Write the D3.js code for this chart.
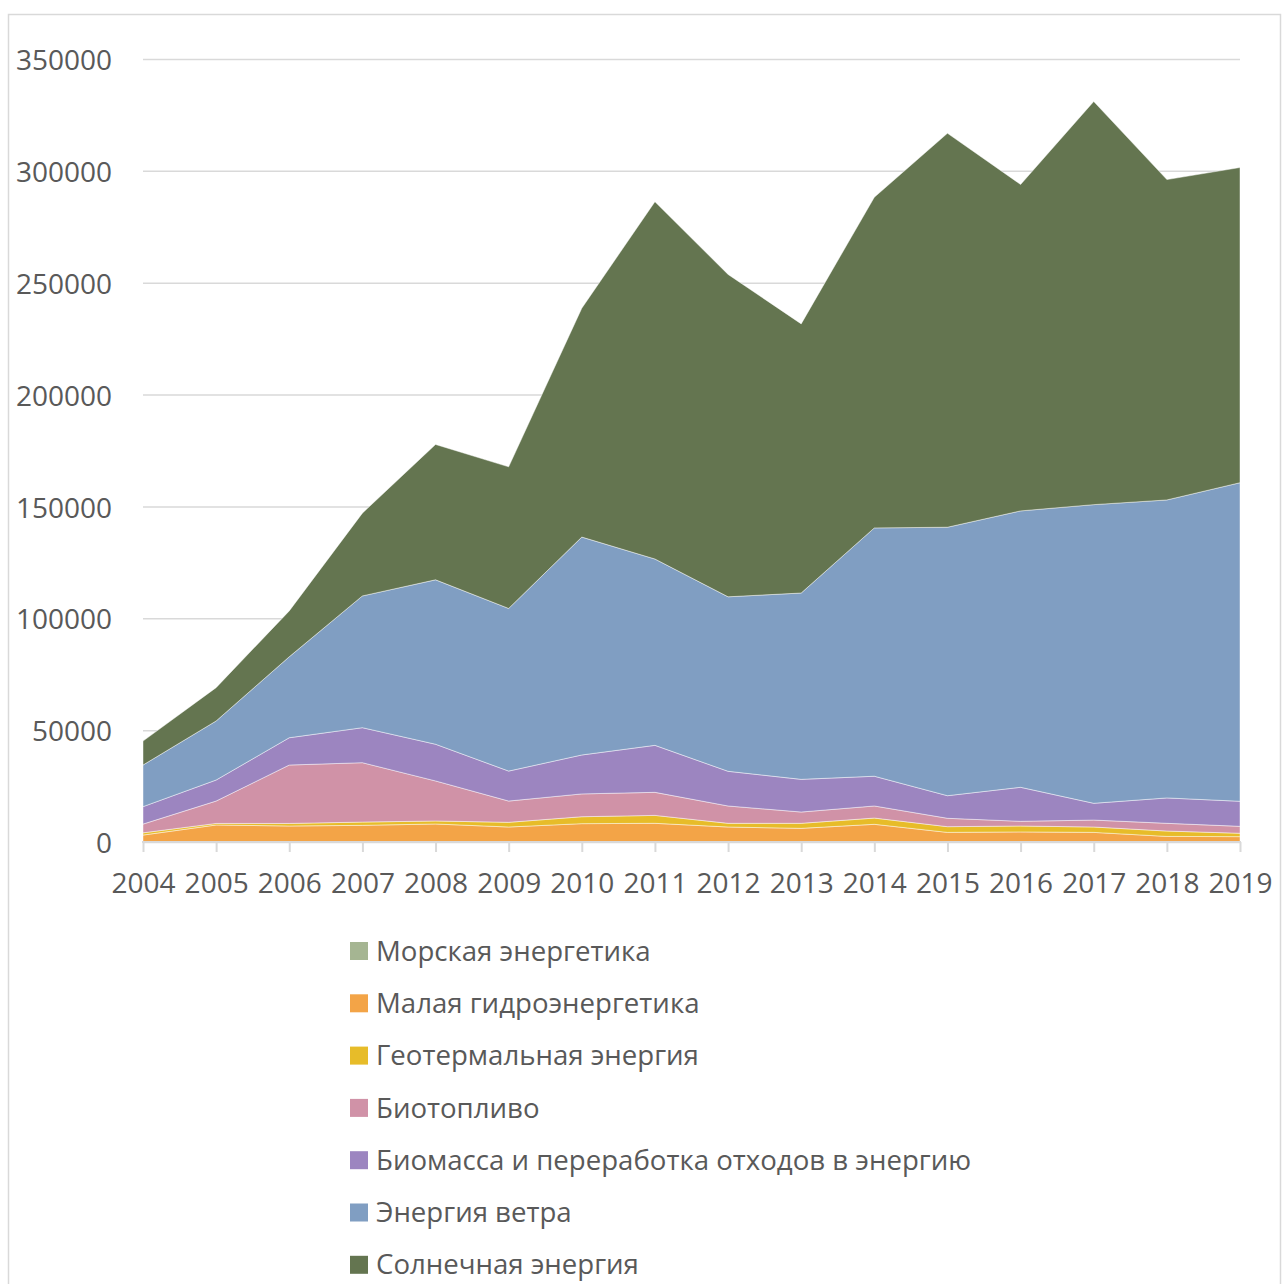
<!DOCTYPE html>
<html><head><meta charset="utf-8">
<script src="https://cdn.jsdelivr.net/npm/d3@7"></script>
<style>body{margin:0;background:#fff}svg{display:block}</style>
</head><body>
<script>
const years = ["2004","2005","2006","2007","2008","2009","2010","2011","2012","2013","2014","2015","2016","2017","2018","2019"];
const seriesNames = ["Морская энергетика","Малая гидроэнергетика","Геотермальная энергия","Биотопливо","Биомасса и переработка отходов в энергию","Энергия ветра","Солнечная энергия"];
const marine   = [0,0,0,100,200,0,0,0,0,0,0,0,0,0,0,0];
const hydro    = [3100,7600,7150,7350,7850,6700,8200,8350,6700,6100,7900,4300,4500,4300,2500,2400];
const geo      = [1000,700,1150,1450,1350,2100,3100,3550,1650,2250,2800,2550,2650,2400,2400,1500];
const biofuel  = [3900,10000,26100,26550,17900,9500,10200,10300,7750,5050,5400,3750,2100,3100,3450,3100];
const biomass  = [7800,9400,12200,15650,16400,13400,17400,21000,15500,14600,13300,10100,15200,7500,11350,11200];
const wind     = [18600,26400,36200,58900,73500,72700,97400,83300,78000,83300,111000,120000,123550,133500,133200,142400];
const solar    = [10700,14900,20500,37000,60500,63300,102300,159700,144100,120300,147800,176100,145900,180200,143200,140900];
const yTicks = [0,50000,100000,150000,200000,250000,300000,350000];
const colors = ["#a5b592","#f3a447","#e7bc29","#d092a7","#9c85c0","#809ec2","#647550"];

const seriesValues = [marine, hydro, geo, biofuel, biomass, wind, solar];
const table = years.map((yr, i) => {
  const row = {year: yr};
  seriesNames.forEach((n, k) => row[n] = seriesValues[k][i]);
  return row;
});

const W = 1283, H = 1284;
const svg = d3.select("body").append("svg").attr("width", W).attr("height", H);
const font = "'Open Sans', sans-serif";
const txt = "#595959";

// chart border
svg.append("rect").attr("x", 8.5).attr("y", 14.5).attr("width", 1272).attr("height", 1300)
  .attr("fill", "none").attr("stroke", "#d9d9d9").attr("stroke-width", 1.5);

const x = d3.scalePoint().domain(years).range([143, 1240]);
const y = d3.scaleLinear().domain([0, 350000]).range([842, 59]);

// gridlines + y labels
const yAxis = svg.append("g").attr("transform", "translate(143,0)")
  .call(d3.axisLeft(y).tickValues(yTicks).tickSize(-(1240 - 143)).tickPadding(31).tickFormat(d3.format("d")));
yAxis.select(".domain").remove();
yAxis.selectAll(".tick line").attr("stroke", "#d9d9d9").attr("stroke-width", 1.5);
yAxis.selectAll(".tick text").attr("fill", txt).attr("dy", "0.38em").style("font-family", font).style("font-size", "28px");

// stacked areas
const stack = d3.stack().keys(seriesNames);
const layers = stack(table);
const area = d3.area()
  .x(d => x(d.data.year))
  .y0(d => y(d[0]))
  .y1(d => y(d[1]));
svg.append("g").selectAll("path").data(layers).join("path")
  .attr("d", area)
  .attr("fill", (d, i) => colors[i])
  .attr("stroke", "#ffffff").attr("stroke-opacity", 0.45).attr("stroke-width", 1);

// x axis
const xAxis = svg.append("g").attr("transform", "translate(0,842)")
  .call(d3.axisBottom(x).tickSize(10).tickPadding(21));
xAxis.select(".domain").attr("stroke", "#d9d9d9").attr("stroke-width", 2)
  .attr("d", "M142,0H1241");
xAxis.selectAll(".tick line").attr("stroke", "#d9d9d9").attr("stroke-width", 2);
xAxis.selectAll(".tick text").attr("fill", txt).style("font-family", font).style("font-size", "28px");

// legend
const leg = svg.append("g");
seriesNames.forEach((n, i) => {
  const cy = 951 + i * 52.3;
  leg.append("rect").attr("x", 350).attr("y", cy - 9).attr("width", 18).attr("height", 18).attr("fill", colors[i]);
  leg.append("text").attr("x", 376).attr("y", cy).attr("dy", "0.35em")
    .attr("fill", txt).style("font-family", font).style("font-size", "27.6px").text(n);
});
</script>
</body></html>
